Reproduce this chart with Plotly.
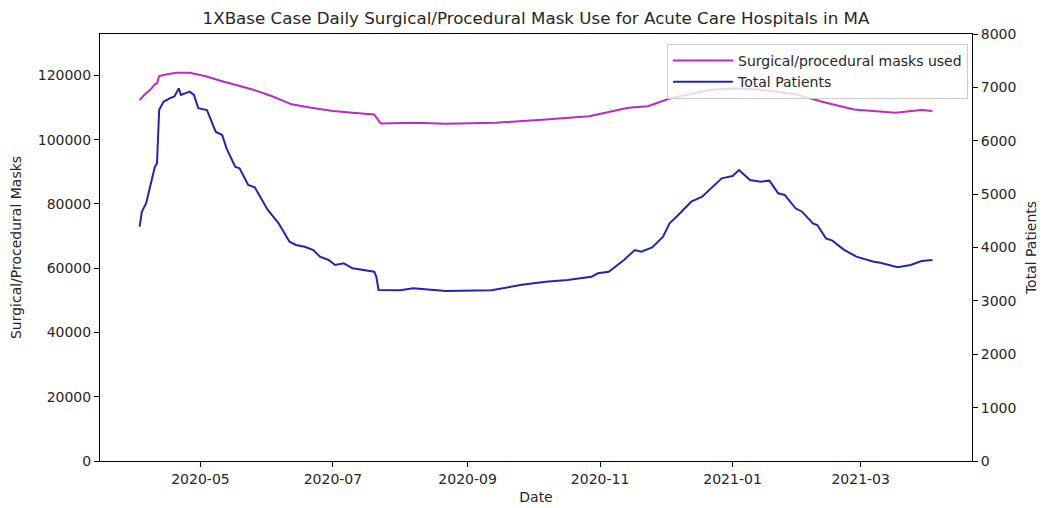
import plotly.graph_objects as go

# Daily total patients (right axis)
patient_dates = [
    "2020-04-03", "2020-04-04", "2020-04-06", "2020-04-08", "2020-04-10", "2020-04-11",
    "2020-04-12", "2020-04-14", "2020-04-17", "2020-04-19", "2020-04-21", "2020-04-22",
    "2020-04-26", "2020-04-28", "2020-04-30", "2020-05-04", "2020-05-08", "2020-05-11",
    "2020-05-13", "2020-05-17", "2020-05-19", "2020-05-23", "2020-05-26", "2020-06-01",
    "2020-06-06", "2020-06-11", "2020-06-14", "2020-06-18", "2020-06-22", "2020-06-25",
    "2020-06-29", "2020-07-02", "2020-07-06", "2020-07-10", "2020-07-15", "2020-07-20",
    "2020-07-21", "2020-07-22", "2020-08-01", "2020-08-07", "2020-08-22", "2020-09-12",
    "2020-09-26", "2020-10-07", "2020-10-17", "2020-10-28", "2020-10-31", "2020-11-05",
    "2020-11-12", "2020-11-17", "2020-11-20", "2020-11-25", "2020-11-30", "2020-12-03",
    "2020-12-07", "2020-12-13", "2020-12-18", "2020-12-22", "2020-12-27", "2021-01-01",
    "2021-01-04", "2021-01-09", "2021-01-14", "2021-01-18", "2021-01-22", "2021-01-25",
    "2021-01-30", "2021-02-02", "2021-02-07", "2021-02-09", "2021-02-13", "2021-02-16",
    "2021-02-21", "2021-02-27", "2021-03-07", "2021-03-10", "2021-03-18", "2021-03-24",
    "2021-03-29", "2021-04-03",
]
patient_counts = [
    4390, 4670, 4830, 5200, 5510, 5580,
    6580, 6730, 6800, 6830, 6980, 6860,
    6920, 6860, 6610, 6576, 6170, 6108,
    5858, 5514, 5483, 5171, 5128, 4703,
    4453, 4109, 4047, 4015, 3953, 3828,
    3766, 3672, 3704, 3610, 3578, 3547,
    3450, 3204, 3200, 3235, 3185, 3200,
    3300, 3360, 3390, 3450, 3517, 3547,
    3766, 3953, 3922, 4003, 4203, 4453,
    4609, 4858, 4952, 5109, 5296, 5340,
    5452, 5265, 5233, 5252, 5016, 4984,
    4734, 4671, 4453, 4422, 4172, 4128,
    3966, 3828, 3734, 3716, 3629, 3672,
    3747, 3766,
]

# Daily surgical/procedural masks used (left axis)
mask_dates = [
    "2020-04-03", "2020-04-05", "2020-04-08", "2020-04-10", "2020-04-11", "2020-04-12",
    "2020-04-15", "2020-04-20", "2020-04-26", "2020-05-03", "2020-05-11", "2020-05-16",
    "2020-05-25", "2020-06-03", "2020-06-12", "2020-06-21", "2020-07-01", "2020-07-10",
    "2020-07-20", "2020-07-23", "2020-08-08", "2020-08-22", "2020-09-14", "2020-10-07",
    "2020-10-27", "2020-11-14", "2020-11-23", "2020-12-03", "2020-12-12", "2020-12-22",
    "2021-01-01", "2021-01-12", "2021-01-22", "2021-01-30", "2021-02-13", "2021-02-26",
    "2021-03-17", "2021-03-29", "2021-04-03",
]
mask_counts = [
    112300, 113800, 115600, 117200, 117500, 119800,
    120300, 120800, 120800, 119800, 118200, 117200,
    115600, 113500, 111000, 109900, 108900, 108400,
    107850, 105000, 105260, 104950, 105260, 106300,
    107300, 109900, 110400, 112800, 114100, 115500,
    115900, 115700, 114800, 114100, 111500, 109400,
    108400, 109200, 108900,
]

# Axis settings
y_left_max = 1.1 * max(mask_counts)
y_right_max = 8000
left_ticks = [0, 20000, 40000, 60000, 80000, 100000, 120000]
right_ticks = [0, 1000, 2000, 3000, 4000, 5000, 6000, 7000, 8000]
x_range = ["2020-03-15 18:00", "2021-04-21 06:00"]

FONT = "DejaVu Sans"
TEXT = "#262626"
MAGENTA = "#b82cc0"
BLUE = "#2424b4"

fig = go.Figure()
fig.add_trace(go.Scatter(
    x=mask_dates, y=mask_counts, mode="lines", name="Surgical/procedural masks used",
    line=dict(color=MAGENTA, width=2), yaxis="y",
))
fig.add_trace(go.Scatter(
    x=patient_dates, y=patient_counts, mode="lines", name="Total Patients",
    line=dict(color=BLUE, width=2), yaxis="y2",
))

axis_common = dict(
    showgrid=False, zeroline=False, showline=True, linecolor="#000000", linewidth=1,
    ticks="outside", ticklen=5, tickwidth=1, tickcolor="#000000",
    tickfont=dict(family=FONT, size=14, color=TEXT),
)

fig.update_layout(
    width=1043, height=508,
    margin=dict(l=100, r=71, t=34, b=47, autoexpand=False),
    paper_bgcolor="white", plot_bgcolor="white",
    font=dict(family=FONT, size=14, color=TEXT),
    title=dict(
        text="1XBase Case Daily Surgical/Procedural Mask Use for Acute Care Hospitals in MA",
        x=536 / 1043, xanchor="center", y=1 - 18 / 508, yanchor="middle",
        font=dict(family=FONT, size=16.7, color=TEXT),
    ),
    xaxis=dict(
        **axis_common, mirror=True, range=x_range, type="date",
        tickvals=["2020-05-01", "2020-07-01", "2020-09-01", "2020-11-01",
                  "2021-01-01", "2021-03-01"],
        tickformat="%Y-%m",
        title=dict(text="Date", font=dict(family=FONT, size=14, color=TEXT), standoff=6),
    ),
    yaxis=dict(
        **axis_common, mirror=True, range=[0, y_left_max],
        tickvals=left_ticks, tickformat="d",
        title=dict(text="Surgical/Procedural Masks",
                   font=dict(family=FONT, size=14, color=TEXT), standoff=12),
    ),
    yaxis2=dict(
        **axis_common, overlaying="y", side="right", range=[0, y_right_max],
        tickvals=right_ticks, tickformat="d",
        title=dict(text="Total Patients",
                   font=dict(family=FONT, size=14, color=TEXT), standoff=10),
    ),
    legend=dict(
        x=(968 - 100) / 872, xanchor="right", y=(461 - 44) / 427, yanchor="top",
        bgcolor="rgba(255,255,255,0.8)", bordercolor="#cccccc", borderwidth=1,
        font=dict(family=FONT, size=14, color=TEXT),
        tracegroupgap=0, itemwidth=60,
    ),
    showlegend=True,
)

fig.write_html("out.html")
